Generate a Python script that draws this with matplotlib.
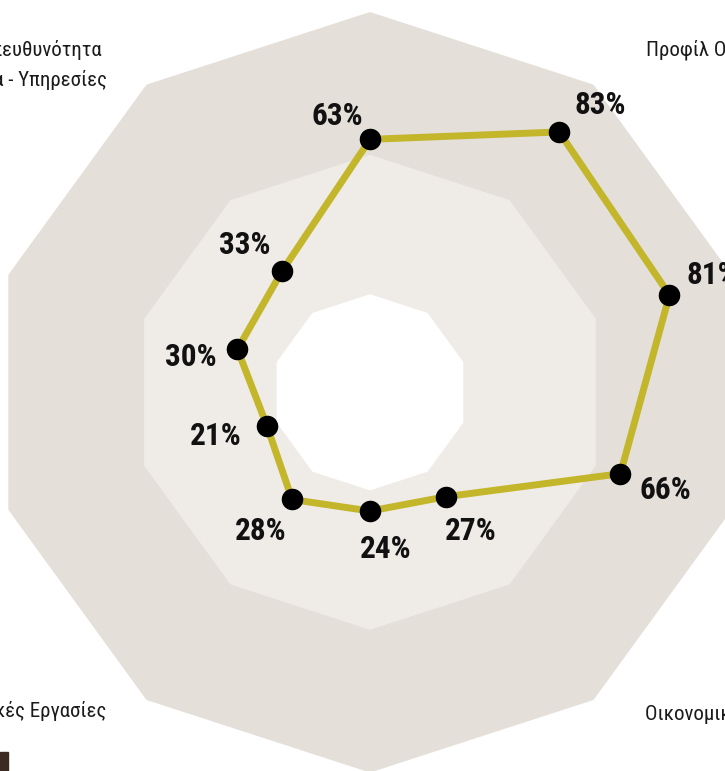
import numpy as np
import matplotlib
matplotlib.use("Agg")
import matplotlib.pyplot as plt
from matplotlib.patches import Rectangle
from matplotlib import font_manager

# use a condensed face if one is around, else Roboto (narrowest installed)
names = {f.name for f in font_manager.fontManager.ttflist}
fams = [f for f in ["Roboto Condensed", "Liberation Sans Narrow", "Roboto"] if f in names]
plt.rcParams["font.family"] = fams + ["DejaVu Sans"]

# values per axis, clockwise from the top
values = [63, 83, 81, 66, 27, 24, 28, 21, 30, 33]
value_labels = [f"{v}%" for v in values]
# background bands (outer -> inner)
band_levels = [100, 58.5, 18]
band_colors = ["#e5dfd9", "#efece8", "#ffffff"]
r_min = -10.5

# corner category labels (cut by the frame in the original)
corner_labels = ["Κοινωνική Υπευθυνότητα", "Προϊόντα - Υπηρεσίες",
                 "Προφίλ Οργανισμού", "Περιβαλλοντικές Εργασίες",
                 "Οικονομικά Στοιχεία"]

# label offsets in pixels from each marker
offsets = [(-33, 23), (41, 27), (43, 20), (45, -16), (25, -34),
           (16, -38), (-31, -32), (-51, -10), (-47, -8), (-37, 26)]

n = len(values)
theta = np.linspace(0, 2 * np.pi, n, endpoint=False)
theta_c = np.append(theta, theta[0])

W, H = 725, 771
fig = plt.figure(figsize=(W / 100, H / 100), dpi=100)
fig.patch.set_facecolor("white")

cx, cy, R = 370, 771 - 392.3, 380.3
ax = fig.add_axes([(cx - R) / W, (cy - R) / H, 2 * R / W, 2 * R / H],
                  projection="polar")
ax.set_theta_zero_location("N")
ax.set_theta_direction(-1)
ax.set_ylim(r_min, band_levels[0])
ax.patch.set_visible(False)
ax.spines["polar"].set_visible(False)
ax.grid(False)
ax.set_xticks([])
ax.set_yticks([])

for lvl, col in zip(band_levels, band_colors):
    ax.fill(theta_c, [lvl] * (n + 1), color=col, lw=0, zorder=1)

vals_c = values + values[:1]
ax.plot(theta_c, vals_c, color="#c3b62b", lw=5, zorder=3,
        solid_joinstyle="miter")
ax.plot(theta, values, "o", color="black", ms=14.5, zorder=4)

for t, v, lab, off in zip(theta, values, value_labels, offsets):
    ax.annotate(lab, (t, v), xytext=off, textcoords="offset pixels",
                ha="center", va="center", fontsize=22.5, fontweight="bold",
                color="#111111", zorder=5, annotation_clip=False)

txt = dict(fontsize=15, color="#1a1a1a", va="center")
fig.text(102 / W, 1 - 50 / H, corner_labels[0], ha="right", **txt)
fig.text(107 / W, 1 - 80 / H, corner_labels[1], ha="right", **txt)
fig.text(646 / W, 1 - 50 / H, corner_labels[2], ha="left", **txt)
fig.text(106 / W, 1 - 711 / H, corner_labels[3], ha="right", **txt)
fig.text(645 / W, 1 - 714 / H, corner_labels[4], ha="left", **txt)

fig.patches.append(Rectangle((0, 0), 8 / W, 19 / H, transform=fig.transFigure,
                             color="#3b2b22", figure=fig))

fig.savefig("out.png", dpi=100)
